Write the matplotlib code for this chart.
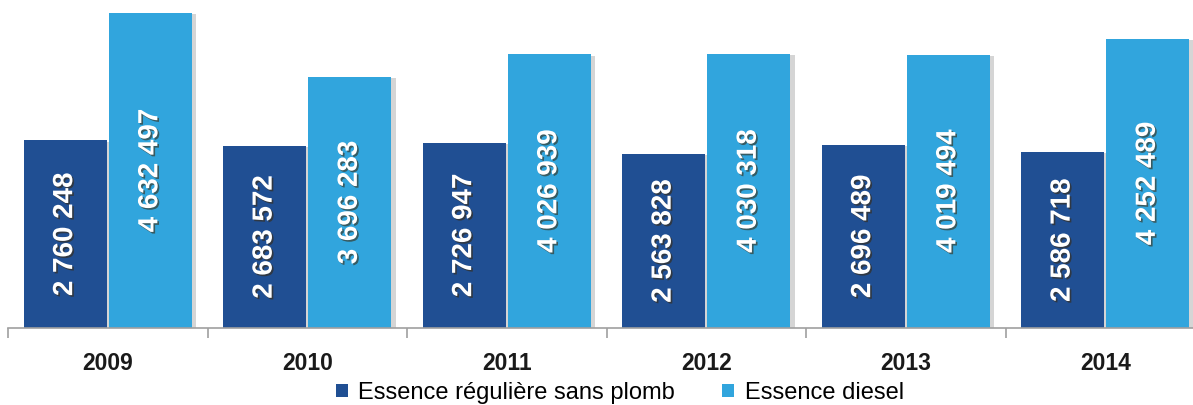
import matplotlib
matplotlib.use("Agg")
import matplotlib.pyplot as plt
import matplotlib.patheffects as pe
from matplotlib.patches import Patch
import numpy as np

years = ["2009", "2010", "2011", "2012", "2013", "2014"]
sans_plomb = [2760248, 2683572, 2726947, 2563828, 2696489, 2586718]
diesel = [4632497, 3696283, 4026939, 4030318, 4019494, 4252489]
labels_series = ["Essence régulière sans plomb", "Essence diesel"]
colors = ["#204F93", "#31A5DD"]

plt.rcParams['font.family'] = ['Liberation Sans', 'DejaVu Sans']

W, H = 1193, 405
fig = plt.figure(figsize=(W / 100, H / 100), dpi=100)
ax = fig.add_axes([8 / W, 77 / H, (1205 - 8) / W, 328 / H])

x = np.arange(len(years))
bw = 0.417
shadow = [pe.SimplePatchShadow(offset=(3, -1), shadow_rgbFace="#888888", alpha=0.35), pe.Normal()]
txt_fx = [pe.withSimplePatchShadow(offset=(1.2, -1.2), shadow_rgbFace="#3a2a10", alpha=0.6)]

def fmt(v):
    return f"{v:,}".replace(",", " ")

for i, (vals, c, lab) in enumerate(zip([sans_plomb, diesel], colors, labels_series)):
    pos = x + (i - 0.5) * (bw + 0.01)
    bars = ax.bar(pos, vals, width=bw, color=c, label=lab, zorder=2,
                  edgecolor="none")
    for b in bars:
        b.set_path_effects(shadow)
    for p, v in zip(pos, vals):
        ax.text(p, v / 2, fmt(v), rotation=90, ha="center", va="center",
                color="white", fontsize=20, fontweight="bold", zorder=3,
                path_effects=txt_fx)

ax.set_xlim(-0.5, 5.5)
ax.set_ylim(0, 4632497 * 328 / 315)

for s in ["top", "right", "left"]:
    ax.spines[s].set_visible(False)
ax.spines["bottom"].set_color("#A0A0A0")
ax.spines["bottom"].set_linewidth(1.2)
ax.set_yticks([])
ax.set_xticks(x)
ax.set_xticklabels(years, fontsize=16.5, fontweight="bold", color="#1a1a1a")
ax.tick_params(axis="x", which="major", length=0, pad=17)
ax.set_xticks(np.arange(-0.5, 6.0, 1.0), minor=True)
ax.tick_params(axis="x", which="minor", length=7, color="#A0A0A0", width=1.2)

handles = [Patch(facecolor=c, edgecolor="none") for c in colors]
fig.legend(handles, labels_series, loc="center",
           bbox_to_anchor=(620 / W, 1 - 393 / H), ncol=2,
           frameon=False, fontsize=17, handlelength=0.5, handleheight=0.5,
           handletextpad=0.45, columnspacing=2.0)

fig.savefig("out.png", dpi=100)
